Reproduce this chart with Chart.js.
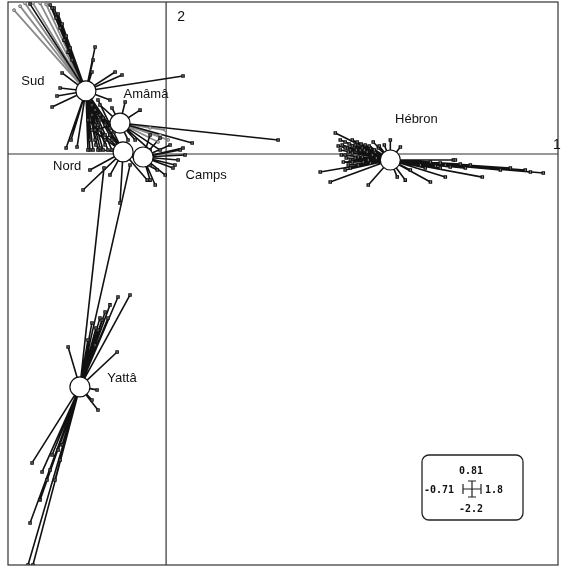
<!DOCTYPE html>
<html><head><meta charset="utf-8">
<script src="https://cdn.jsdelivr.net/npm/chart.js@4.4.1/dist/chart.umd.min.js"></script>
<style>html,body{margin:0;padding:0;background:#fff;}#c{display:block;}</style>
</head><body>
<canvas id="c" width="562" height="567" style="width:562px;height:567px"></canvas>
<script>
// ---- data ----
const groups = ["Sud", "Amâmâ", "Nord", "Camps", "Hébron", "Yattâ"];
const centerX = [-0.360, -0.207, -0.193, -0.103, 1.007, -0.387];
const centerY = [0.336, 0.165, 0.011, -0.016, -0.032, -1.241];

const sudX = [-0.521,-0.503,-0.485,-0.467,-0.449,-0.431,-0.611,-0.319,-0.328,-0.333,-0.229,-0.198,0.076,-0.467,-0.490,-0.512,-0.427,-0.400,-0.449,-0.476,-0.319,-0.297,-0.342,-0.274,-0.306,-0.252,
  -0.333,-0.319,-0.297,-0.274,-0.252,-0.315,-0.261,-0.342,-0.283,-0.512,-0.494,-0.476,-0.458,-0.440,-0.422,
  -0.351,-0.328,-0.306,-0.283,-0.243,-0.243,-0.234];
const sudY = [0.794,0.778,0.746,0.693,0.629,0.565,0.799,0.570,0.501,0.437,0.437,0.421,0.416,0.432,0.309,0.250,0.075,0.037,0.032,0.352,0.075,0.032,0.021,0.048,0.155,0.288,
  0.208,0.155,0.128,0.101,0.139,0.048,0.021,0.075,0.192,0.778,0.725,0.671,0.607,0.543,0.501,
  0.021,0.021,0.021,0.021,0.021,0.075,0.117];
const sudGrayX = [-0.683,-0.634,-0.598,-0.566,-0.539,-0.656];
const sudGrayY = [0.767,0.804,0.804,0.804,0.799,0.788];

const amamaX = [-0.184,-0.243,-0.297,-0.297,-0.319,-0.274,0.117,0.503,-0.117,-0.139,-0.072,-0.027,-0.171];
const amamaY = [0.277,0.245,0.261,0.181,0.128,0.075,0.059,0.075,0.234,0.075,0.021,0.021,0.075];
const amamaGrayX = [-0.027,0.009,-0.072,-0.004,-0.036];
const amamaGrayY = [0.101,0.075,0.139,0.128,0.064];

const nordX = [-0.373,-0.207,-0.342,-0.319,-0.297,-0.274,-0.252,-0.085,-0.040,-0.072,-0.333,-0.351,-0.297,-0.252,-0.342,-0.333,-0.306];
const nordY = [-0.192,-0.261,-0.085,0.234,0.208,0.155,0.101,-0.139,-0.085,-0.059,0.128,0.181,0.021,-0.112,0.288,0.261,0.288];

const campsX = [0.063,0.085,0.040,0.031,0.076,-0.072,-0.027,-0.072,-0.049,-0.004,0.054,0.018];
const campsY = [0.021,-0.005,-0.059,-0.075,0.032,0.101,0.085,-0.139,-0.165,-0.112,-0.032,0.048];

const hebronX = [0.760,0.804,0.827,0.827,0.818,0.849,0.872,0.894,0.917,0.863,0.939,0.782,0.804,0.836,0.881,0.692,0.737,0.908,1.038,0.804,1.007,1.052,0.930,0.980,1.694,1.613,1.420,1.254,1.187,1.290,1.366,1.501,1.546,1.636,1.299,1.097,1.074,1.142,1.231,
  1.187,1.231,1.254,1.209,1.164,1.276,1.321,1.344,0.782,0.791,0.813,0.836,0.849,0.881,0.903,0.926,0.953,0.796,0.827,0.854,0.773,0.908,
  0.804,0.818,0.836,0.858,0.876,0.890,0.912,0.935,0.957,0.809,0.836,0.863,0.885,0.917,0.787,0.822,0.944];
const hebronY = [0.112,0.064,0.021,-0.032,-0.059,0.048,0.021,0.048,0.032,-0.059,0.011,0.021,-0.005,0.075,-0.016,-0.096,-0.149,-0.165,-0.123,-0.085,0.075,0.037,0.064,0.048,-0.101,-0.085,-0.123,-0.123,-0.149,-0.032,-0.059,-0.085,-0.075,-0.096,-0.032,-0.085,-0.139,-0.059,-0.075,
  -0.043,-0.048,-0.059,-0.064,-0.075,-0.069,-0.053,-0.075,0.075,0.048,0.032,0.005,-0.021,0.032,0.011,-0.005,0.032,-0.043,-0.075,0.021,0.043,-0.032,
  0.032,0.011,0.043,0.064,0.053,0.021,0.043,0.021,0.043,-0.021,-0.043,-0.016,-0.043,-0.048,-0.005,0.053,-0.021];

const yattaX = [-0.162,-0.216,-0.252,-0.288,-0.333,-0.306,-0.220,-0.440,-0.279,-0.162,-0.310,-0.306,-0.333,-0.602,-0.557,-0.535,-0.499,-0.476,-0.611,-0.620,-0.598,-0.351,-0.319,-0.521,-0.566,
  -0.297,-0.274,-0.315,-0.261,-0.485,-0.512,-0.467];
const yattaY = [-0.751,-0.762,-0.804,-0.884,-0.900,-0.938,-1.055,-1.028,-0.075,-0.059,-1.257,-1.364,-1.311,-1.646,-1.694,-1.737,-1.737,-1.630,-1.966,-2.190,-2.190,-0.991,-1.018,-1.684,-1.843,
  -0.874,-0.842,-0.927,-0.874,-1.577,-1.604,-1.550];

const blackX = [sudX, amamaX, nordX, campsX, hebronX, yattaX];
const blackY = [sudY, amamaY, nordY, campsY, hebronY, yattaY];
const grayX = [sudGrayX, amamaGrayX, [], [], [], []];
const grayY = [sudGrayY, amamaGrayY, [], [], [], []];

const xLimits = [-0.71, 1.76];
const yLimits = [-2.19, 0.81];
const legendTexts = ["0.81", "-0.71", "1.8", "-2.2"];
const axisNames = ["1", "2"];

// ---- style ----
const labelOffsets = [[-53,-10],[26,-29],[-56,14],[63,18],[26,-41],[42,-8]];

function star(cx, cy, xs, ys) {
  const d = [];
  xs.forEach((x, i) => { d.push({x: cx, y: cy}, {x: x, y: ys[i]}, {x: NaN, y: NaN}); });
  return d;
}
function pts(xs, ys) { return xs.map((x, i) => ({x: x, y: ys[i]})); }

const datasets = [];
groups.forEach((g, k) => {
  if (grayX[k].length) {
    datasets.push({data: star(centerX[k], centerY[k], grayX[k], grayY[k]), showLine: true, spanGaps: false,
      borderColor: '#8a8a8a', borderWidth: 1.8, pointRadius: 0, order: 3});
    datasets.push({data: pts(grayX[k], grayY[k]), showLine: false, pointStyle: 'rect', pointRadius: 1.6,
      backgroundColor: '#fff', borderColor: '#666', borderWidth: 1, order: 2});
  }
  datasets.push({data: star(centerX[k], centerY[k], blackX[k], blackY[k]), showLine: true, spanGaps: false,
    borderColor: '#111', borderWidth: 1.6, pointRadius: 0, order: 2});
  datasets.push({data: pts(blackX[k], blackY[k]), showLine: false, pointStyle: 'rect', pointRadius: 1.6,
    backgroundColor: '#fff', borderColor: '#111', borderWidth: 1.3, order: 1});
});
datasets.push({data: pts(centerX, centerY), showLine: false, pointStyle: 'circle', pointRadius: 10,
  backgroundColor: '#fff', borderColor: '#111', borderWidth: 1.2, order: 0});

const deco = {
  id: 'deco',
  beforeDatasetsDraw(chart) {
    const ctx = chart.ctx, a = chart.chartArea, xs = chart.scales.x, ys = chart.scales.y;
    const x0 = xs.getPixelForValue(0), y0 = ys.getPixelForValue(0);
    ctx.save();
    ctx.strokeStyle = '#333'; ctx.lineWidth = 1.2;
    ctx.beginPath();
    ctx.moveTo(x0, a.top); ctx.lineTo(x0, a.bottom);
    ctx.moveTo(a.left, y0); ctx.lineTo(a.right, y0);
    ctx.stroke();
    ctx.strokeRect(a.left, a.top, a.right - a.left, a.bottom - a.top);
    ctx.fillStyle = '#111';
    ctx.font = '14px "Liberation Sans", Arial, sans-serif';
    ctx.textAlign = 'center'; ctx.textBaseline = 'middle';
    ctx.fillText(axisNames[1], x0 + 15, a.top + 15);
    ctx.fillText(axisNames[0], a.right - 1, y0 - 9);
    ctx.restore();
  },
  afterDatasetsDraw(chart) {
    const ctx = chart.ctx, xs = chart.scales.x, ys = chart.scales.y;
    ctx.save();
    ctx.fillStyle = '#111';
    ctx.font = '13px "Liberation Sans", Arial, sans-serif';
    ctx.textAlign = 'center'; ctx.textBaseline = 'middle';
    groups.forEach((g, k) => {
      const px = xs.getPixelForValue(centerX[k]) + labelOffsets[k][0];
      const py = ys.getPixelForValue(centerY[k]) + labelOffsets[k][1];
      ctx.fillText(g, px, py);
    });
    // legend box
    const bx = 422, by = 455, bw = 101, bh = 65, r = 7;
    ctx.strokeStyle = '#222'; ctx.lineWidth = 1.3;
    ctx.beginPath();
    ctx.moveTo(bx + r, by); ctx.lineTo(bx + bw - r, by); ctx.arcTo(bx + bw, by, bx + bw, by + r, r);
    ctx.lineTo(bx + bw, by + bh - r); ctx.arcTo(bx + bw, by + bh, bx + bw - r, by + bh, r);
    ctx.lineTo(bx + r, by + bh); ctx.arcTo(bx, by + bh, bx, by + bh - r, r);
    ctx.lineTo(bx, by + r); ctx.arcTo(bx, by, bx + r, by, r);
    ctx.stroke();
    ctx.font = 'bold 10px "DejaVu Sans Mono", monospace';
    const cx = 472, cy = 489;
    ctx.fillText(legendTexts[0], cx - 1, cy - 18);
    ctx.textAlign = 'right'; ctx.fillText(legendTexts[1], cx - 18, cy + 1);
    ctx.textAlign = 'left'; ctx.fillText(legendTexts[2], cx + 13, cy + 1);
    ctx.textAlign = 'center'; ctx.fillText(legendTexts[3], cx - 1, cy + 20);
    ctx.lineWidth = 1.2;
    ctx.beginPath();
    ctx.moveTo(cx - 9, cy); ctx.lineTo(cx + 9, cy);
    ctx.moveTo(cx - 9, cy - 5); ctx.lineTo(cx - 9, cy + 5);
    ctx.moveTo(cx + 9, cy - 5); ctx.lineTo(cx + 9, cy + 5);
    ctx.moveTo(cx, cy - 8); ctx.lineTo(cx, cy + 8);
    ctx.moveTo(cx - 4, cy - 8); ctx.lineTo(cx + 4, cy - 8);
    ctx.moveTo(cx - 4, cy + 8); ctx.lineTo(cx + 4, cy + 8);
    ctx.stroke();
    ctx.restore();
  }
};

new Chart(document.getElementById('c'), {
  type: 'scatter',
  data: {datasets: datasets},
  options: {
    responsive: false,
    animation: false,
    events: [],
    layout: {autoPadding: false, padding: {left: 8, top: 2, right: 4, bottom: 2}},
    plugins: {legend: {display: false}, tooltip: {enabled: false}},
    scales: {
      x: {type: 'linear', display: false, min: xLimits[0], max: xLimits[1]},
      y: {type: 'linear', display: false, min: yLimits[0], max: yLimits[1]}
    }
  },
  plugins: [deco]
});
</script>
</body></html>
